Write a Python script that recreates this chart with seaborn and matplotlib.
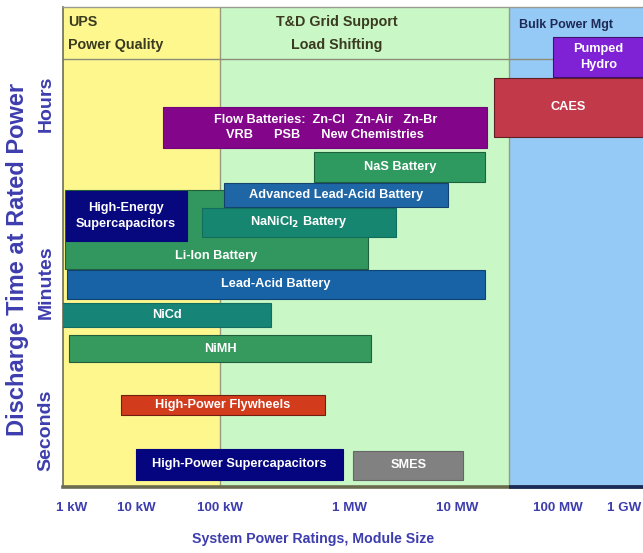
import numpy as np
import pandas as pd
import matplotlib
matplotlib.use("Agg")
import matplotlib.pyplot as plt
import seaborn as sns

# ---- data -----------------------------------------------------------------
technologies = [
    "Pumped\nHydro",
    "CAES",
    "Flow Batteries:  Zn-Cl   Zn-Air   Zn-Br\nVRB      PSB      New Chemistries",
    "Li-Ion Battery",
    "NaS Battery",
    "Advanced Lead-Acid Battery",
    "NaNiCl$_\\mathbf{2}$ Battery",
    "High-Energy\nSupercapacitors",
    "Lead-Acid Battery",
    "NiCd",
    "NiMH",
    "High-Power Flywheels",
    "High-Power Supercapacitors",
    "SMES",
]
# module power range, kW
power_min_kw = [9.0e4, 2.3e4, 21, 0.78, 540, 107, 61, 0.8, 0.83, 0.7, 0.9, 5.8, 10, 1.1e3]
power_max_kw = [2.0e6, 2.0e6, 2.0e4, 1.5e3, 1.9e4, 8.3e3, 2.7e3, 40, 1.9e4, 250, 1.6e3, 650, 900, 1.15e4]
# discharge time at rated power (relative log-time units)
time_lo = [4.10, 3.50, 3.39, 2.18, 3.05, 2.80, 2.50, 2.46, 1.88, 1.60, 1.25, 0.72, 0.07, 0.07]
time_hi = [4.50, 4.09, 3.80, 2.97, 3.35, 3.04, 2.79, 2.96, 2.17, 1.84, 1.52, 0.92, 0.38, 0.36]
bar_colors = ["#7F22D6", "#C23A4A", "#82058A", "#32975E", "#2F9A60", "#1E66A6", "#168670",
              "#07077E", "#1763A6", "#168476", "#369A5E", "#D23B1C", "#05057F", "#818181"]

power_ticks_kw = [1, 10, 100, 1e3, 1e4, 1e5, 1e6]
power_tick_labels = ["1 kW", "10 kW", "100 kW", "1 MW", "10 MW", "100 MW", "1 GW"]
time_ticks = [0.57, 2.05, 3.83]
time_tick_labels = ["Seconds", "Minutes", "Hours"]

# application bands (kW boundaries)
band_edges_kw = [100, 3.3e4]
band_names = ["UPS\nPower Quality", "T&D Grid Support\nLoad Shifting", "Bulk Power Mgt"]
band_colors = ["#FDF78E", "#C9F8C6", "#95C9F6"]

df = pd.DataFrame({
    "tech": technologies, "pmin": power_min_kw, "pmax": power_max_kw,
    "tlo": time_lo, "thi": time_hi, "color": bar_colors,
})

# ---- style ------------------------------------------------------------------
sns.set_theme(style="white")
plt.rcParams["font.family"] = ["Liberation Sans", "DejaVu Sans"]
blue_txt = "#3D3DAE"

# decade spacing of the power axis is not uniform
DEC = np.array([-3, 0, 1, 2, 3, 4, 5, 6, 9], float)
POS = np.array([-120, 72, 136, 220, 349, 457, 558, 624, 831], float)


def fwd(x):
    x = np.asarray(x, float)
    return np.interp(np.log10(np.clip(x, 1e-6, None)), DEC, POS)


def inv(p):
    p = np.asarray(p, float)
    return 10 ** np.interp(p, POS, DEC)


fig = plt.figure(figsize=(6.43, 5.53), dpi=100)
ax = fig.add_axes([63 / 643, 66 / 553, 580 / 643, 480 / 553])
ax.set_xscale("function", functions=(fwd, inv))
xmin, xmax = float(inv(63)), float(inv(643))
ymax = 4.80
ax.set_xlim(xmin, xmax)
ax.set_ylim(0, ymax)

# application bands
edges = [xmin] + band_edges_kw + [xmax * 2]
for (a, b), c in zip(zip(edges[:-1], edges[1:]), band_colors):
    ax.axvspan(a, b, color=c, lw=0, zorder=0)
for e in band_edges_kw:
    ax.axvline(e, color="#9A9A80", lw=1.0, zorder=1)
ax.axhline(4.28, color="#8C8C78", lw=1.0, zorder=1)

# header texts
ax.text(0.009, 0.984, band_names[0], transform=ax.transAxes, ha="left", va="top",
        fontsize=10.3, fontweight="bold", color="#3A3A20", linespacing=1.85)
ax.text(0.472, 0.984, band_names[1], transform=ax.transAxes, ha="center", va="top",
        fontsize=10.3, fontweight="bold", color="#3A3A20", linespacing=1.85,
        multialignment="center")
ax.text(0.786, 0.976, band_names[2], transform=ax.transAxes, ha="left", va="top",
        fontsize=9, fontweight="bold", color="#1E2A55")

# technology ranges
for _, r in df.iterrows():
    edge = sns.set_hls_values(r["color"], l=0.25) if r["color"] != "#818181" else "#666666"
    ax.barh((r["tlo"] + r["thi"]) / 2, r["pmax"] - r["pmin"], left=r["pmin"],
            height=r["thi"] - r["tlo"], color=r["color"], edgecolor=edge, lw=0.8, zorder=3)

label_y = {"Li-Ion Battery": 2.31}
for _, r in df.iterrows():
    lo, hi = max(r["pmin"], xmin), min(r["pmax"], xmax)
    xc = float(inv((fwd(lo) + fwd(hi)) / 2))
    yc = label_y.get(r["tech"], (r["tlo"] + r["thi"]) / 2)
    ax.text(xc, yc, r["tech"], ha="center", va="center", color="white",
            fontsize=9.2, fontweight="bold", linespacing=1.4,
            multialignment="center", zorder=5)

# axes
ax.set_xticks(power_ticks_kw)
ax.set_xticklabels(power_tick_labels)
ax.xaxis.set_minor_locator(matplotlib.ticker.NullLocator())
ax.set_yticks(time_ticks)
ax.set_yticklabels(time_tick_labels, rotation=90, va="center")
ax.tick_params(axis="x", length=0, pad=11, labelsize=9.6, labelcolor=blue_txt)
ax.tick_params(axis="y", length=0, pad=6, labelsize=14, labelcolor=blue_txt)
for lab in ax.get_xticklabels() + ax.get_yticklabels():
    lab.set_fontweight("bold")

ax.set_xlabel("System Power Ratings, Module Size", fontsize=10.2, fontweight="bold",
              color=blue_txt)
ax.xaxis.set_label_coords(0.431, -0.094)
ax.set_ylabel("Discharge Time at Rated Power", fontsize=17, fontweight="bold",
              color=blue_txt)
ax.yaxis.set_label_coords(-0.058, 0.475)

ax.spines["right"].set_visible(False)
ax.spines["top"].set_color("#9A9A90")
ax.spines["top"].set_linewidth(1.0)
ax.spines["left"].set_color("#6E6E55")
ax.spines["left"].set_linewidth(1.2)
ax.spines["bottom"].set_color("#6B6B4E")
ax.spines["bottom"].set_linewidth(2.6)
ax.hlines(0, band_edges_kw[1], xmax, color="#1A2A5A", lw=2.6, zorder=6, clip_on=False)

fig.savefig("out.png", dpi=100)
